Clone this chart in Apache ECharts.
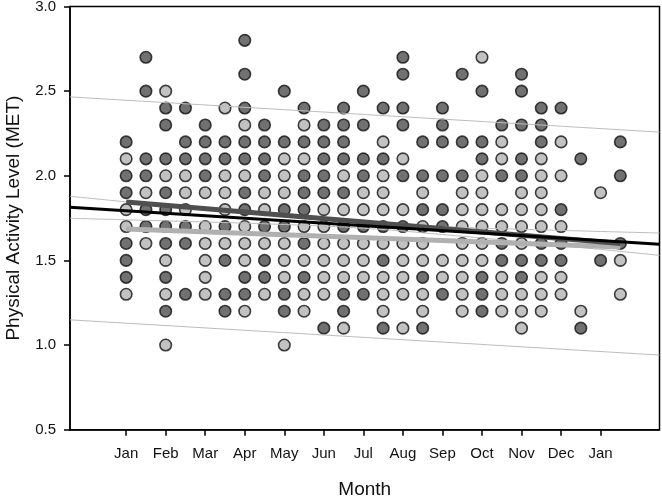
<!DOCTYPE html>
<html>
<head>
<meta charset="utf-8">
<script src="https://cdn.jsdelivr.net/npm/echarts@6/dist/echarts.min.js"></script>
<style>html,body{margin:0;padding:0;background:#fff}#c{width:662px;height:498px}</style>
</head>
<body>
<div id="c"></div>
<script>
// Month tick labels (x = months since January, ticks at 0..12)
const monthLabels = ['Jan','Feb','Mar','Apr','May','Jun','Jul','Aug','Sep','Oct','Nov','Dec','Jan'];
const monthTicks = [0,1,2,3,4,5,6,7,8,9,10,11,12];
const yTicks = [0.5,1.0,1.5,2.0,2.5,3.0];

// Point columns (half-month positions)
const colX = [0,0.5,1,1.5,2,2.5,3,3.5,4,4.5,5,5.5,6,6.5,7,7.5,8,8.5,9,9.5,10,10.5,11,11.5,12,12.5];

// Dark-grey group values per column
const darkVals = [
  [2.2,2.0,1.9,1.6,1.5,1.4],
  [2.7,2.5,2.1,2.0,1.8,1.7],
  [2.4,2.3,2.1,1.9,1.8,1.7,1.6,1.4,1.2],
  [2.4,2.2,2.1,1.7,1.6,1.3],
  [2.3,2.2,2.1,2.0],
  [2.2,2.1,1.7,1.5,1.3,1.2],
  [2.8,2.6,2.4,2.2,2.1,1.9,1.8,1.4,1.3],
  [2.3,2.2,2.1,2.0,1.7,1.5,1.4],
  [2.5,2.2,1.8,1.7,1.3,1.2],
  [2.4,2.2,2.0,1.9,1.8,1.6,1.4],
  [2.3,2.2,2.1,2.0,1.9,1.1],
  [2.4,2.3,2.2,2.1,1.9,1.7,1.3,1.2],
  [2.5,2.3,2.1,2.0,1.7,1.3],
  [2.4,2.1,1.7,1.5,1.1],
  [2.7,2.6,2.4,2.3,2.0,1.7],
  [2.2,2.0,1.8,1.4,1.1],
  [2.4,2.3,2.2,2.0,1.8,1.7,1.3],
  [2.6,2.2,2.0],
  [2.5,2.2,2.1,1.4,1.3,1.2],
  [2.3,2.0,1.6,1.5],
  [2.6,2.5,2.3,2.1,2.0,1.5,1.4],
  [2.4,2.3,2.2,1.6,1.5],
  [2.4,1.8,1.6,1.5],
  [2.1,1.1],
  [1.5],
  [2.2,2.0,1.6]
];

// Light-grey group values per column
const lightVals = [
  [2.1,1.8,1.7,1.3],
  [1.9,1.6],
  [2.5,2.0,1.5,1.3,1.0],
  [2.0,1.9,1.8],
  [1.9,1.7,1.6,1.5,1.4,1.3],
  [2.4,2.0,1.9,1.8,1.6],
  [2.3,2.0,1.7,1.6,1.5,1.2],
  [1.9,1.8,1.6,1.3],
  [2.1,2.0,1.9,1.6,1.5,1.4,1.0],
  [2.3,2.1,1.7,1.5,1.3,1.2],
  [1.8,1.7,1.6,1.5,1.4,1.3],
  [2.0,1.8,1.6,1.5,1.4,1.1],
  [1.9,1.8,1.6,1.5,1.4],
  [2.2,2.0,1.9,1.8,1.6,1.4,1.3,1.2],
  [2.1,1.8,1.6,1.5,1.4,1.3,1.1],
  [1.9,1.7,1.6,1.5,1.3,1.2],
  [1.5,1.4],
  [1.9,1.8,1.7,1.6,1.5,1.4,1.3,1.2],
  [2.7,2.0,1.9,1.8,1.7,1.6,1.5],
  [2.2,2.1,1.8,1.7,1.4,1.3,1.2],
  [1.9,1.8,1.7,1.6,1.3,1.2,1.1],
  [2.1,2.0,1.9,1.8,1.7,1.4,1.3,1.2],
  [2.2,2.0,1.7,1.4,1.3],
  [1.2],
  [1.9],
  [1.5,1.3]
];

// Regression lines (read endpoints)
const overallX = [-1.42, 13.49];
const overallY = [1.814, 1.596];
const darkFitX = [0, 12.5];
const darkFitY = [1.845, 1.600];
const lightFitX = [0, 12.5];
const lightFitY = [1.685, 1.580];
// Prediction band (thin lines)
const predUpperY = [2.466, 2.258];
const predLowerY = [1.149, 0.941];
// Confidence band (thin curves), read at these x positions
const ciX = [-1.42, 0, 2, 4, 6, 8, 10, 12, 13.49];
const ciUpperY = [1.879, 1.846, 1.801, 1.758, 1.720, 1.699, 1.684, 1.671, 1.662];
const ciLowerY = [1.749, 1.740, 1.727, 1.712, 1.690, 1.653, 1.610, 1.565, 1.530];

function pts(xs, ys){ return xs.map((x,i)=>[x, ys[i]]); }
function colPts(vals){
  const out = [];
  vals.forEach((col, i) => col.forEach(v => out.push([colX[i], v])));
  return out;
}

const FONT = "'Liberation Sans', Arial, sans-serif";
const chart = echarts.init(document.getElementById('c'), null, {renderer: 'canvas'});

const thin = {color: '#bdbdbd', width: 1};
chart.setOption({
  animation: false,
  backgroundColor: '#fff',
  grid: {left: 70, right: 2.5, top: 6.5, bottom: 68.3, show: true, borderColor: '#000', borderWidth: 1.5, outerBoundsMode: 'none'},
  xAxis: {
    type: 'value', min: -1.42, max: 13.49,
    name: 'Month', nameLocation: 'middle', nameGap: 51,
    nameTextStyle: {fontFamily: FONT, fontSize: 19, color: '#111'},
    axisLine: {show: true, onZero: false, lineStyle: {color: '#000', width: 1.5}},
    axisTick: {show: true, length: 6, customValues: monthTicks, lineStyle: {color: '#000', width: 1.5}},
    axisLabel: {customValues: monthTicks, margin: 17, fontFamily: FONT, fontSize: 15, color: '#111',
      formatter: v => monthLabels[Math.round(v)]},
    splitLine: {show: false}
  },
  yAxis: {
    type: 'value', min: 0.5, max: 3.0, interval: 0.5,
    name: 'Physical Activity Level (MET)', nameLocation: 'middle', nameGap: 47,
    nameTextStyle: {fontFamily: FONT, fontSize: 19, color: '#111'},
    axisLine: {show: true, onZero: false, lineStyle: {color: '#000', width: 1.5}},
    axisTick: {show: true, length: 6, lineStyle: {color: '#000', width: 1.5}},
    axisLabel: {margin: 14, fontFamily: FONT, fontSize: 15, color: '#111',
      customValues: yTicks, formatter: v => v.toFixed(1)},
    splitLine: {show: false}
  },
  series: [
    {type: 'scatter', data: colPts(darkVals), symbol: 'circle', symbolSize: 11.5, z: 2,
      itemStyle: {color: '#4d4d4d', borderColor: '#111', borderWidth: 1.6}},
    {type: 'scatter', data: colPts(lightVals), symbol: 'circle', symbolSize: 11.5, z: 2,
      itemStyle: {color: '#b3b3b3', borderColor: '#111', borderWidth: 1.6}},
    {type: 'line', data: pts(overallX, predUpperY), symbol: 'none', z: 3, lineStyle: thin},
    {type: 'line', data: pts(overallX, predLowerY), symbol: 'none', z: 3, lineStyle: thin},
    {type: 'line', data: pts(ciX, ciUpperY), symbol: 'none', smooth: true, z: 3, lineStyle: thin},
    {type: 'line', data: pts(ciX, ciLowerY), symbol: 'none', smooth: true, z: 3, lineStyle: thin},
    {type: 'line', data: pts(lightFitX, lightFitY), symbol: 'none', z: 4, lineStyle: {color: '#b0b0b0', width: 5}},
    {type: 'line', data: pts(darkFitX, darkFitY), symbol: 'none', z: 4, lineStyle: {color: '#4f4f4f', width: 5}},
    {type: 'line', data: pts(overallX, overallY), symbol: 'none', z: 5, lineStyle: {color: '#000', width: 3}}
  ]
});
</script>
</body>
</html>
